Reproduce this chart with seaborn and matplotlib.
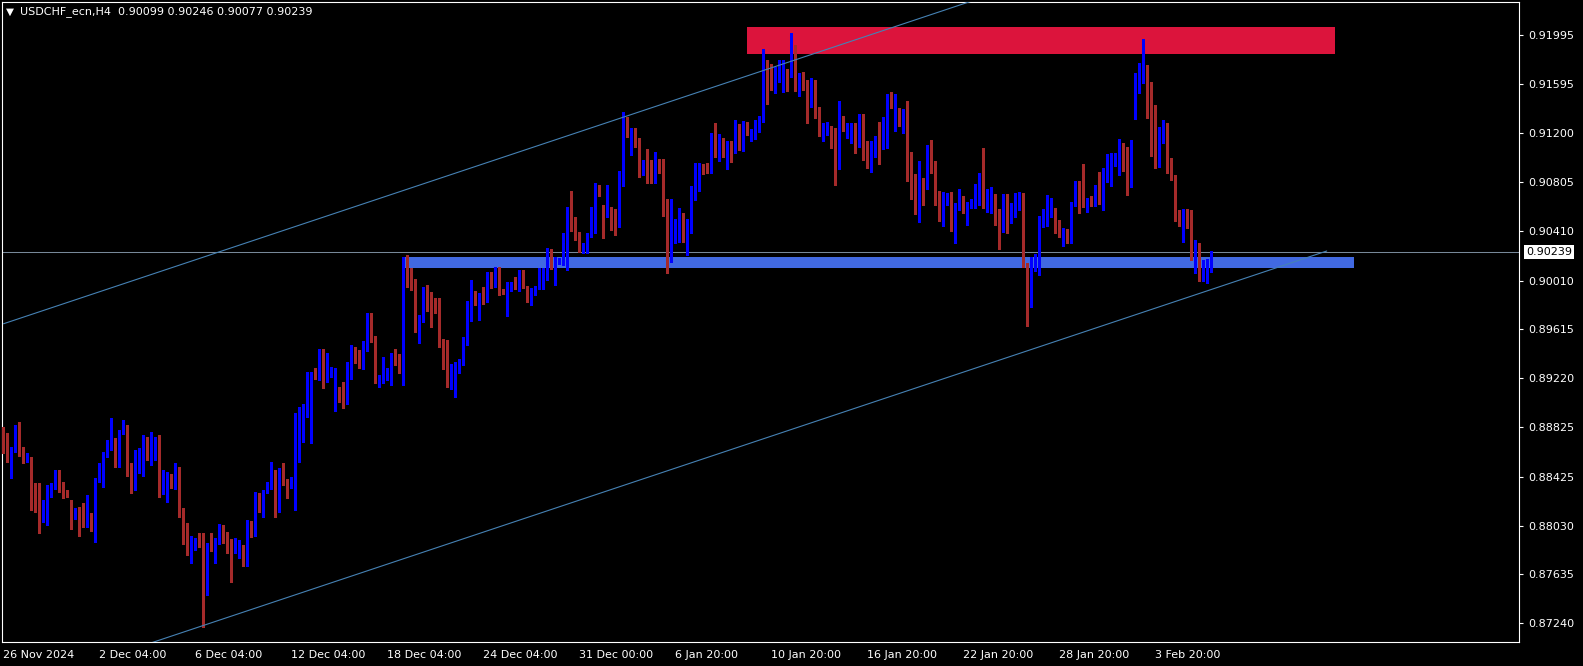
import numpy as np
import pandas as pd
import matplotlib
matplotlib.use("Agg")
import matplotlib.pyplot as plt
import matplotlib.transforms as mtransforms
from matplotlib.patches import Rectangle
import seaborn as sns

symbol = "USDCHF_ecn,H4"

# H4 candles, prices in points (1e-5)
opens = [
    88781, 88703, 88587, 88646, 88794, 88592, 88560, 88582, 88283, 88156,
    88097, 88116, 88277, 88339, 88471, 88350, 88291, 88140, 88099, 88164,
    88116, 88054, 88099, 87914, 88393, 88479, 88595, 88641, 88700, 88627,
    88770, 88803, 88528, 88326, 88498, 88433, 88695, 88609, 88697, 88714,
    88285, 88415, 88431, 88339, 88487, 88167, 87962, 87806, 87908, 87919,
    87881, 87509, 87873, 87730, 87900, 88021, 87962, 87851, 87824, 87859,
    87859, 87711, 88043, 87986, 88277, 88156, 88296, 88339, 88430, 88183,
    88474, 88358, 88339, 88377, 88649, 88862, 88910, 88694, 89247, 89214,
    89449, 89206, 89239, 88969, 89126, 89053, 89031, 89309, 89390, 89346,
    89306, 89449, 89740, 89543, 89193, 89201, 89220, 89233, 89368, 89341,
    89274, 90015, 89994, 89961, 89611, 89719, 89943, 89816, 89805, 89773,
    89530, 89390, 89221, 89153, 89301, 89363, 89541, 89719, 89918, 89746,
    89862, 89846, 90075, 89967, 90096, 89934, 89800, 89967, 89975, 89961,
    90075, 89967, 89859, 89907, 89948, 89975, 90069, 90258, 89983, 90163,
    90169, 90177, 90589, 90514, 90365, 90244, 90293, 90371, 90514, 90775,
    90613, 90540, 90602, 90500, 90467, 90863, 91240, 91114, 91157, 91141,
    90909, 90939, 90923, 90877, 90985, 90958, 90599, 90230, 90392, 90392,
    90535, 90373, 90400, 90688, 90750, 90939, 90904, 90882, 91187, 91017,
    91146, 90912, 91071, 91065, 91154, 91119, 91267, 91165, 91160, 91286,
    91335, 91663, 91645, 91537, 91636, 91690, 91707, 91671, 91825, 91564,
    91631, 91609, 91591, 91623, 91410, 91146, 91227, 91248, 91178, 90925,
    91300, 91178, 91205, 91275, 91098, 91205, 91079, 90963, 91011, 91154,
    91106, 91302, 91464, 91219, 91356, 91286, 91380, 90890, 90815, 90567,
    90831, 90782, 91057, 90925, 90729, 90459, 90667, 90675, 90419, 90594,
    90661, 90494, 90634, 90648, 90715, 90734, 90613, 90607, 90710, 90505,
    90411, 90629, 90505, 90532, 90634, 90669, 90155, 89858, 90095, 90055,
    90472, 90521, 90567, 90594, 90427, 90292, 90419, 90319, 90621, 90804,
    90680, 90567, 90669, 90634, 90761, 90653, 90863, 90904, 90971, 90998,
    91065, 90992, 90790, 91383, 91577, 91609, 91731, 91496, 91375, 90957,
    91168, 91275, 90963, 90863, 90548, 90324, 90588, 90559, 90235, 90289,
    90055, 89988, 90099,
]
highs = [
    88829, 88776, 88668, 88843, 88864, 88668, 88614, 88582, 88372, 88372,
    88237, 88358, 88372, 88479, 88479, 88385, 88318, 88237, 88169, 88183,
    88210, 88277, 88129, 88412, 88533, 88627, 88722, 88897, 88735, 88803,
    88883, 88843, 88533, 88641, 88654, 88762, 88749, 88789, 88749, 88762,
    88479, 88466, 88447, 88533, 88506, 88170, 88048, 87946, 87927, 87967,
    87973, 87892, 87967, 87927, 88043, 88032, 87981, 87919, 87927, 87913,
    87873, 88075, 88069, 88304, 88296, 88317, 88385, 88546, 88479, 88492,
    88533, 88404, 88425, 88937, 88991, 89012, 89274, 89274, 89301, 89454,
    89454, 89422, 89309, 89301, 89152, 89193, 89355, 89489, 89476, 89449,
    89522, 89745, 89751, 89562, 89247, 89390, 89301, 89422, 89457, 89416,
    90204, 90217, 90110, 90021, 89732, 89956, 89975, 89921, 89867, 89867,
    89536, 89530, 89336, 89355, 89374, 89557, 89846, 90015, 89929, 89907,
    89961, 90083, 90083, 90123, 90118, 89940, 90002, 90002, 90037, 90096,
    90096, 89967, 89948, 89969, 90115, 90115, 90271, 90266, 90198, 90196,
    90392, 90603, 90735, 90527, 90400, 90312, 90398, 90603, 90797, 90783,
    90621, 90782, 90607, 90586, 90898, 91375, 91335, 91246, 91246, 91165,
    90985, 91071, 90985, 91052, 90990, 90990, 90669, 90669, 90505, 90599,
    90559, 90505, 90777, 90958, 90958, 90952, 90958, 91200, 91286, 91195,
    91160, 91141, 91141, 91308, 91275, 91300, 91289, 91232, 91308, 91340,
    91882, 91793, 91760, 91739, 91793, 91793, 91717, 92008, 91914, 91685,
    91698, 91631, 91650, 91631, 91415, 91281, 91289, 91259, 91240, 91461,
    91340, 91286, 91281, 91281, 91356, 91356, 91138, 91138, 91181, 91292,
    91329, 91518, 91531, 91518, 91402, 91394, 91461, 91049, 90871, 90976,
    90842, 91106, 91146, 90976, 90734, 90729, 90715, 90723, 90634, 90747,
    90693, 90648, 90669, 90790, 90877, 91079, 90750, 90764, 90710, 90586,
    90710, 90710, 90634, 90715, 90723, 90715, 90155, 90203, 90225, 90532,
    90586, 90701, 90680, 90599, 90499, 90432, 90427, 90645, 90815, 90815,
    90952, 90675, 90693, 90782, 90885, 90922, 91033, 91038, 91038, 91151,
    91119, 91092, 91146, 91685, 91766, 91962, 91752, 91617, 91429, 91254,
    91308, 91281, 90998, 90863, 90580, 90588, 90588, 90580, 90338, 90311,
    90176, 90182, 90246,
]
lows = [
    88614, 88547, 88417, 88627, 88595, 88539, 88547, 88156, 88143, 87973,
    88062, 88035, 88264, 88323, 88304, 88250, 88261, 88002, 88081, 87949,
    88021, 88021, 87989, 87900, 88385, 88345, 88587, 88641, 88506, 88506,
    88770, 88431, 88296, 88318, 88452, 88433, 88560, 88520, 88560, 88264,
    88285, 88218, 88331, 88323, 88097, 87881, 87792, 87725, 87833, 87860,
    87213, 87469, 87827, 87725, 87881, 87886, 87811, 87576, 87805, 87765,
    87703, 87703, 87940, 87946, 88142, 88102, 88290, 88323, 88102, 88142,
    88358, 88250, 88331, 88156, 88546, 88708, 88910, 88694, 89212, 89206,
    89144, 89193, 89233, 88958, 89031, 88983, 89012, 89212, 89346, 89301,
    89295, 89443, 89516, 89179, 89147, 89179, 89206, 89166, 89328, 89266,
    89167, 89961, 89934, 89598, 89509, 89678, 89767, 89638, 89751, 89476,
    89293, 89153, 89132, 89067, 89266, 89328, 89490, 89684, 89813, 89692,
    89821, 89840, 89948, 89956, 89894, 89902, 89724, 89929, 89940, 89929,
    89953, 89840, 89813, 89894, 89940, 89940, 90015, 90101, 89975, 90142,
    90136, 90096, 90411, 90339, 90244, 90236, 90231, 90360, 90398, 90694,
    90351, 90521, 90419, 90378, 90446, 90777, 91173, 91025, 91087, 90850,
    90863, 90796, 90796, 90796, 90877, 90532, 90074, 90163, 90311, 90324,
    90324, 90217, 90392, 90661, 90734, 90869, 90877, 90877, 91011, 90979,
    91011, 90912, 90971, 91044, 91065, 91060, 91187, 91141, 91154, 91214,
    91294, 91437, 91550, 91529, 91618, 91537, 91545, 91658, 91545, 91502,
    91550, 91286, 91415, 91321, 91178, 91138, 91186, 91084, 90782, 90912,
    91219, 91165, 91119, 91044, 91092, 90984, 90922, 90890, 91006, 90952,
    91071, 91079, 91402, 91219, 91262, 91200, 90817, 90669, 90548, 90486,
    90621, 90747, 90882, 90621, 90491, 90454, 90621, 90411, 90311, 90580,
    90559, 90459, 90599, 90599, 90621, 90599, 90567, 90559, 90459, 90265,
    90405, 90397, 90478, 90521, 90580, 90122, 89645, 89799, 90090, 90055,
    90446, 90451, 90526, 90397, 90359, 90289, 90311, 90311, 90613, 90559,
    90607, 90561, 90615, 90615, 90629, 90580, 90809, 90774, 90936, 90863,
    90898, 90701, 90769, 91313, 91523, 91604, 91321, 91019, 90917, 90925,
    91119, 90877, 90823, 90494, 90454, 90324, 90432, 90176, 90074, 90009,
    90009, 89988, 90077,
]
closes = [
    88700, 88587, 88654, 88789, 88595, 88560, 88582, 88277, 88148, 88102,
    88124, 88283, 88339, 88471, 88345, 88285, 88261, 88099, 88156, 88110,
    88054, 88099, 88062, 88398, 88485, 88600, 88646, 88695, 88627, 88776,
    88803, 88520, 88326, 88501, 88633, 88695, 88609, 88703, 88714, 88285,
    88420, 88431, 88339, 88485, 88156, 87954, 87825, 87919, 87919, 87881,
    87509, 87873, 87851, 87913, 88021, 87962, 87846, 87824, 87865, 87865,
    87717, 88048, 87986, 88277, 88148, 88304, 88352, 88420, 88183, 88479,
    88363, 88344, 88393, 88654, 88864, 88918, 89144, 89260, 89214, 89449,
    89214, 89247, 89287, 89126, 89045, 89037, 89314, 89390, 89368, 89314,
    89457, 89740, 89543, 89193, 89225, 89233, 89241, 89381, 89336, 89274,
    90110, 89983, 89948, 89611, 89724, 89943, 89840, 89805, 89759, 89525,
    89390, 89221, 89307, 89315, 89369, 89549, 89724, 89921, 89840, 89859,
    89846, 90069, 89967, 90096, 89929, 89902, 89956, 89975, 89948, 90075,
    89961, 89859, 89921, 89961, 89988, 90083, 90263, 90115, 90163, 90177,
    90182, 90594, 90500, 90352, 90266, 90298, 90379, 90519, 90775, 90710,
    90360, 90602, 90500, 90467, 90871, 91249, 91187, 91160, 91133, 90912,
    90939, 90912, 90796, 90971, 90952, 90589, 90217, 90392, 90424, 90535,
    90373, 90413, 90694, 90750, 90939, 90904, 90882, 91187, 91025, 91154,
    91025, 91071, 91060, 91146, 91114, 91259, 91222, 91173, 91300, 91340,
    91663, 91636, 91564, 91645, 91698, 91698, 91658, 91825, 91550, 91631,
    91599, 91591, 91631, 91397, 91181, 91235, 91248, 91173, 90922, 91300,
    91227, 91222, 91267, 91100, 91200, 91073, 90963, 91025, 91154, 91106,
    91313, 91464, 91448, 91362, 91292, 91380, 90882, 90809, 90553, 90831,
    90782, 91060, 90922, 90720, 90500, 90669, 90680, 90419, 90599, 90661,
    90580, 90634, 90653, 90715, 90734, 90613, 90667, 90715, 90500, 90411,
    90629, 90494, 90580, 90642, 90669, 90149, 89853, 90036, 90122, 90486,
    90513, 90572, 90594, 90427, 90365, 90413, 90319, 90634, 90809, 90680,
    90621, 90669, 90634, 90761, 90653, 90871, 90904, 90979, 91011, 91065,
    90984, 90790, 91119, 91582, 91609, 91731, 91477, 91362, 90984, 91178,
    91267, 90952, 90858, 90534, 90459, 90588, 90553, 90243, 90289, 90055,
    90171, 90103, 90239,
]

date_labels = ["26 Nov 2024", "2 Dec 04:00", "6 Dec 04:00", "12 Dec 04:00",
               "18 Dec 04:00", "24 Dec 04:00", "31 Dec 00:00", "6 Jan 20:00",
               "10 Jan 20:00", "16 Jan 20:00", "22 Jan 20:00", "28 Jan 20:00",
               "3 Feb 20:00"]
date_bars = [0, 24, 48, 72, 96, 120, 144, 168, 192, 216, 240, 264, 288]

price_ticks = [0.91995, 0.91595, 0.91200, 0.90805, 0.90410, 0.90010, 0.89615,
               0.89220, 0.88825, 0.88425, 0.88030, 0.87635, 0.87240]
bid = 0.90239

# drawn objects: zones (bar from, bar to, price low, price high), channel lines
supply_zone = (185.9, 332.8, 0.91842, 0.92060)
demand_zone = (99.9, 337.6, 0.90113, 0.90201)
upper_bars, upper_prices = [0, 250], [0.89661, 0.92355]
lower_bars, lower_prices = [0, 330.8], [0.86684, 0.90249]

df = pd.DataFrame({"open": opens, "high": highs, "low": lows, "close": closes}) / 1e5
df["bar"] = np.arange(len(df))
df["bull"] = df["close"] >= df["open"]

BULL, BEAR = "#0000ff", "#a52a2a"

sns.set_theme(style="dark", rc={
    "axes.facecolor": "black", "figure.facecolor": "black",
    "axes.edgecolor": "white", "axes.linewidth": 0.8,
    "text.color": "white", "xtick.color": "white", "ytick.color": "white",
    "axes.grid": False,
})
plt.rcParams["font.family"] = ["DejaVu Sans"]

fig = plt.figure(figsize=(15.83, 6.66), dpi=100)
ax = fig.add_axes([2 / 1583, 24 / 666, 1517 / 1583, 640 / 666])

for (b0, b1, p0, p1), col in [(supply_zone, "#dc143c"), (demand_zone, "#4169e1")]:
    ax.add_patch(Rectangle((b0, p0), b1 - b0, p1 - p0, facecolor=col,
                           edgecolor="none", zorder=1))

ax.axhline(bid, color="#778899", lw=0.75, zorder=2)

colors = np.where(df["bull"], BULL, BEAR)
ax.vlines(df["bar"], df["low"], df["high"], colors=colors, lw=0.75,
          antialiased=False, zorder=3)
body = (df["close"] - df["open"]).abs().clip(lower=0.00006)
ax.bar(df["bar"], body, bottom=df[["open", "close"]].min(axis=1), width=0.76,
       color=colors, linewidth=0, antialiased=False, zorder=4)

sns.lineplot(x=upper_bars, y=upper_prices, ax=ax, color="#4682b4", lw=0.8, zorder=5)
sns.lineplot(x=lower_bars, y=lower_prices, ax=ax, color="#4682b4", lw=0.8, zorder=5)

ax.set_xlim(-0.375, 378.875)
ax.set_ylim(0.870888, 0.922617)

ax.yaxis.tick_right()
ax.set_yticks(price_ticks)
ax.set_yticklabels([f"{p:.5f}" for p in price_ticks])
ax.set_xticks(date_bars)
ax.set_xticklabels(date_labels, ha="left")
ax.tick_params(axis="y", length=3, width=0.8, pad=3.5, labelsize=8, direction="out")
ax.tick_params(axis="x", length=3, width=0.8, pad=2.5, labelsize=8, direction="out")
ax.set_xlabel("")
ax.set_ylabel("")
for sp in ax.spines.values():
    sp.set_color("white")
    sp.set_linewidth(0.8)

trans = mtransforms.blended_transform_factory(ax.transAxes, ax.transData)
ax.text(1.0047, bid, f"{bid:.5f}", transform=trans, fontsize=8, color="black",
        va="center", ha="left", clip_on=False, zorder=10,
        bbox=dict(boxstyle="square,pad=0.2", fc="white", ec="none"))

last = df.iloc[-1]
header = f"{symbol}  {last['open']:.5f} {last['high']:.5f} {last['low']:.5f} {last['close']:.5f}"
fig.text(6 / 1583, 1 - 12 / 666, "\u25bc", fontsize=7.5, va="center", ha="left", color="white")
fig.text(20 / 1583, 1 - 12 / 666, header, fontsize=8, va="center", ha="left", color="white")

fig.savefig("out.png", dpi=100, facecolor="black")
